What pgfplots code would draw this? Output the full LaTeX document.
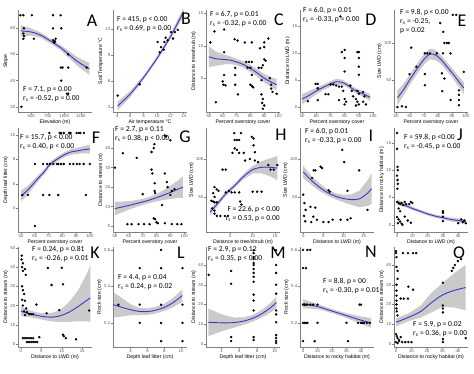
\documentclass[border=0pt]{standalone}
\usepackage{fontspec}
\setmainfont{Carlito}
\newfontfamily\axfont{Liberation Sans}
\usepackage{pgfplots}
\pgfplotsset{compat=1.18}

\definecolor{fitc}{RGB}{55,55,205}
\definecolor{bandc}{RGB}{150,150,150}

\pgfplotsset{
 panel/.style={
   scale only axis, width=74bp, anchor=north west,
   axis x line*=bottom, axis y line*=left,
   axis line style={black!50, line width=0.5bp},
   tick style={black!50, line width=0.4bp},
   tick align=outside, major tick length=1.6bp,
   ticklabel style={font=\axfont\fontsize{4.3}{4.3}\selectfont, text=black!65, inner sep=1bp},
   label style={font=\axfont\fontsize{5.2}{5.2}\selectfont, inner sep=1bp},
   /pgf/number format/assume math mode=true,
   /pgf/number format/1000 sep={},
 },
 pts/.style={only marks, mark=*, mark size=1bp, mark options={draw=black, fill=black}},
}

\newcommand{\fit}[2]{%
  \addplot[fill=bandc, fill opacity=0.5, draw=none] coordinates {#1};
  \addplot[fitc, line width=0.9bp, smooth] coordinates {#2};
}

\newcommand{\ann}[4]{\node[anchor=north west, align=left, inner sep=0pt, font=\fontsize{7.6}{9}\selectfont] at (#1bp,#2bp) {#3\\#4};}
\newcommand{\letter}[3]{\node[inner sep=0pt, font=\fontsize{18}{18}\selectfont] at (#1bp,#2bp) {#3};}
\newcommand{\rs}{r\textsubscript{s}}

\begin{document}
\begin{tikzpicture}
\path (0,0) rectangle (474bp,374bp);

% ---------- Row 1 ----------
\begin{axis}[panel, at={(18bp,364bp)}, height=102bp, xmin=300, xmax=1420, ymin=28, ymax=67,
  xtick={500,750,1000,1250}, ytick={30,40,50,60}, xlabel={Elevation (m)}, ylabel={Slope}]
\addplot[pts] coordinates {(335,65)(380,65)(510,65)(830,65)(945,65)(390,60)(830,60)(955,60)(380,58)(392,57)(380,56)(540,56)(830,55.5)(845,55)(860,55)(870,56)(850,54.5)(1060,50)(950,45)(975,45)(1060,45)(1340,45)(955,40)(1040,35)(1060,35)(350,30)};
\fit{(340,61.2)(500,60.0)(650,58.3)(800,55.9)(950,53.5)(1070,51.3)(1200,49.0)(1380,46.8)(1380,42.2)(1200,45.6)(1070,48.7)(950,51.5)(800,54.1)(650,56.3)(500,57.2)(340,56.8)}
{(340,59.0)(500,58.6)(650,57.3)(800,55.0)(950,52.5)(1070,50.0)(1200,47.3)(1380,44.5)}
\end{axis}

\begin{axis}[panel, at={(113bp,364bp)}, height=102bp, xmin=3.4, xmax=14.5, ymin=2.4, ymax=14.2,
  xtick={4,6,8,10,12,14}, ytick={3,6,9,12}, xlabel={Air temperature \textdegree C}, ylabel={Soil Temperature \textdegree C}]
\addplot[pts] coordinates {(4.1,4.3)(7.4,5.6)(10.1,10.5)(10.6,9.9)(11.1,10.5)(10.4,9.3)(11.3,11.0)(11.6,10.7)(12.1,11.65)(12.7,11.65)(13.1,11.9)(11.0,9.6)(12.4,10.9)};
\fit{(4.1,3.6)(6,4.85)(8,6.65)(10,8.85)(12,11.4)(14,14.5)(14,13.5)(12,10.8)(10,8.35)(8,6.15)(6,4.15)(4.1,2.6)}
{(4.1,3.1)(6,4.5)(8,6.4)(10,8.6)(12,11.1)(14,14.0)}
\end{axis}

\begin{axis}[panel, at={(206bp,364bp)}, height=102bp, xmin=47.9, xmax=101.4, ymin=-0.2, ymax=15.5,
  xtick={50,60,70,80,90,100}, ytick={5,10,15}, xlabel={Percent overstory cover}, ylabel={Distance to treeshrub (m)}]
\addplot[pts] coordinates {(54,12.2)(51,10.5)(61,12.5)(61,9.0)(68.6,11.0)(70.7,10.8)(76,10.5)(81,10.5)(90,10.5)(93,11.1)(90,9.8)(87,9.6)(61,5.5)(60,4.5)(60.5,4.0)(69,6.6)(69,5.5)(69,4.0)(71,2.5)(77,7.5)(79,7.5)(81,7.5)(78,6.6)(80,6.6)(80,4.0)(81,3.8)(82,3.6)(81,5.5)(86,6.6)(88,6.6)(89,7.0)(90,7.9)(91,7.7)(88,4.7)(88,2.5)(89,1.8)(88.5,1.2)(90,0.8)(89,0.3)(94,5.0)(95,4.0)(95,3.4)(96,2.9)(99,2.6)(55,1.3)(62,3.9)};
\fit{(50,9.9)(55,9.1)(60,8.7)(65,8.4)(70,8.0)(75,7.6)(80,7.05)(85,6.4)(90,5.65)(95,5.15)(99,4.9)(99,3.1)(95,3.65)(90,4.35)(85,5.2)(80,5.95)(75,6.6)(70,7.0)(65,7.2)(60,7.1)(55,6.9)(50,6.7)}
{(50,8.3)(55,8.0)(60,7.9)(65,7.8)(70,7.5)(75,7.1)(80,6.5)(85,5.8)(90,5.0)(95,4.4)(99,4.0)}
\end{axis}

\begin{axis}[panel, at={(300bp,364bp)}, height=102bp, xmin=48.5, xmax=100.7, ymin=-0.9, ymax=18,
  xtick={50,60,70,80,90,100}, ytick={0,5,10,15}, xlabel={Percent overstory cover}, ylabel={Distance to LWD (m)}]
\addplot[pts] coordinates {(77,16.8)(78,10.2)(80,10.6)(80,9.1)(80,6.6)(89,10.2)(90,10.2)(90,9.1)(90,7.5)(90,6.0)(76,3.8)(78,3.8)(79,3.0)(80,1.5)(81,1.0)(80,0.5)(66.5,2.4)(68.5,2.4)(59.5,4.3)(61,4.3)(61,3.5)(54,1.1)(61,1.3)(74,4.0)(84,4.0)(85,3.0)(86,2.0)(88,1.5)(89,3.0)(90,2.5)(89,1.0)(90,0.5)(88,0.3)(93,2.8)(94,2.0)(93,1.0)(95,0.5)(76,1.3)(70,4.2)(72,4.2)};
\fit{(50,2.4)(55,3.0)(60,3.6)(65,4.2)(70,4.8)(74,5.25)(78,5.1)(82,4.55)(86,3.75)(90,3.3)(95,2.75)(98,2.45)(98,1.15)(95,1.65)(90,2.3)(86,2.85)(82,3.65)(78,4.1)(74,4.15)(70,3.8)(65,3.2)(60,2.4)(55,1.4)(50,0.6)}
{(50,1.5)(55,2.2)(60,3.0)(65,3.7)(70,4.3)(74,4.7)(78,4.6)(82,4.1)(86,3.3)(90,2.8)(95,2.2)(98,1.8)}
\end{axis}

\begin{axis}[panel, at={(394bp,364bp)}, height=102bp, xmin=48.5, xmax=101.5, ymin=6.8, ymax=144.6,
  xtick={50,60,70,80,90,100}, ytick={50,100}, xlabel={Percent overstory cover}, ylabel={Size LWD (cm)}]
\addplot[pts] coordinates {(60.8,93.7)(59.6,58)(64.5,68)(70.6,86)(72.3,86)(74.3,86)(79.2,86)(83.6,86)(89,86)(84.6,100)(86.3,100)(87.7,100)(90.6,138)(93.1,138)(81.6,127)(83.8,115)(70.6,58)(70.6,43)(82.8,59)(84.6,52)(89,23)(95,36)(95,30)(95,23)(95,16)(98.5,61)(51,13.5)(54.2,14.5)(57,13.5)(83,35)};
\fit{(51,36)(55,44)(60,58)(65,72)(70,85)(74,92)(78,91)(82,84)(86,75)(90,66)(94,57)(98.5,47)(98.5,31)(94,43)(90,54)(86,63)(82,72)(78,77)(74,78)(70,71)(65,58)(60,44)(55,28)(51,16)}
{(51,26)(55,36)(60,51)(65,65)(70,78)(74,85)(78,84)(82,78)(86,69)(90,60)(94,50)(98.5,39)}
\end{axis}

% ---------- Row 2 ----------
\begin{axis}[panel, at={(18bp,246bp)}, height=104bp, xmin=47.8, xmax=101.5, ymin=2.05, ymax=10.57,
  xtick={50,60,70,80,90,100}, ytick={4,6,8,10}, xlabel={Percent overstory cover}, ylabel={Depth leaf litter (cm)}]
\addplot[pts] coordinates {(70.6,10.16)(78,10.16)(79,10.16)(81,10.16)(85,10.16)(86,10.16)(90.4,10.16)(92,10.16)(93,10.16)(95.6,10.16)(60,7.62)(66,7.62)(69,7.62)(71,7.62)(73.5,7.62)(76,7.62)(77,7.62)(79,7.62)(81,7.62)(85.5,7.62)(88,7.62)(90.5,7.62)(92.5,7.62)(95.5,7.62)(100,7.62)(51,5.08)(55,5.08)(66,5.08)(70.6,5.08)(77,5.08)(97,5.08)(60,2.54)};
\fit{(50,5.45)(55,5.85)(62,6.65)(67,7.2)(71,7.8)(76,8.2)(81,8.55)(86,8.82)(91,8.95)(96,9.1)(100,9.2)(100,8.5)(96,8.5)(91,8.45)(86,8.38)(81,8.15)(76,7.8)(71,7.4)(67,6.8)(62,6.15)(55,5.15)(50,4.55)}
{(50,5.0)(55,5.5)(62,6.4)(67,7.0)(71,7.6)(76,8.0)(81,8.35)(86,8.6)(91,8.7)(96,8.8)(100,8.85)}
\end{axis}

\begin{axis}[panel, at={(113bp,246bp)}, height=104bp, xmin=48.6, xmax=102, ymin=-3, ymax=50.3,
  xtick={50,60,70,80,90,100}, ytick={0,10,20,30,40}, xlabel={Percent overstory cover}, ylabel={Distance to stream (m)}]
\addplot[pts] coordinates {(50,30)(55.7,37.4)(65.7,35)(70,16.4)(76.4,38)(78,40)(78.5,42)(76.4,29)(77,27)(78.6,22)(78.6,18)(79,17)(78,4)(79,3.5)(59,1)(62,1)(67,1)(71,1)(75,1)(86,46.5)(87,46)(90,44)(86,27)(87.5,22.6)(88,20)(84,10.8)(80,2)(81,1.5)(86,1.5)(91,1)(95,1)(98,1)(90,16)(91,18)(93,19)};
\fit{(50,12.5)(55,12.6)(60,12.8)(65,13.3)(70,14.0)(75,15.0)(80,16.5)(85,18.4)(90,20.7)(95,23.2)(99,25.5)(99,14.5)(95,14.4)(90,13.9)(85,13.4)(80,12.7)(75,11.8)(70,10.8)(65,9.7)(60,8.4)(55,7.0)(50,5.5)}
{(50,9.0)(55,9.8)(60,10.6)(65,11.5)(70,12.4)(75,13.4)(80,14.6)(85,15.9)(90,17.3)(95,18.8)(99,20.0)}
\end{axis}

\begin{axis}[panel, at={(206bp,246bp)}, height=104bp, xmin=-0.4, xmax=16.1, ymin=3.9, ymax=140.8,
  xtick={5,10,15}, ytick={50,100}, xlabel={Distance to tree/shrub (m)}, ylabel={Size LWD (cm)}]
\addplot[pts] coordinates {(5.9,134)(7.4,134)(6,125)(6.5,125)(7,125)(6,114)(6.5,112)(5.5,108)(7,108)(8,108)(3.3,86)(4,86)(9.8,129)(10.2,127)(10.2,118)(10.5,109)(8.3,98)(9.4,100)(10.5,98)(11.2,96)(14,86)(14.7,86)(13.5,92)(15.5,92)(1.5,63)(2,60)(2.4,58)(1.2,55)(1.5,50)(0.8,45)(1.2,44)(1.5,43)(2,43)(4,56)(4.7,58)(5.3,56)(6,56)(7,56)(10,57)(11,57)(12,57)(1.5,28)(2,25)(2.8,25)(3.8,25)(4.5,25)(7.2,44)(7.5,40)(1,35)(1.5,32)};
\fit{(0.5,34)(2,43.5)(4,57)(6,68)(8,80.5)(10,91)(12,97)(14,101)(15.5,104)(15.5,72)(14,77)(12,81)(10,81)(8,73.5)(6,62)(4,51)(2,36.5)(0.5,26)}
{(0.5,30)(2,40)(4,54)(6,65)(8,77)(10,86)(12,89)(14,89)(15.5,88)}
\end{axis}

\begin{axis}[panel, at={(300bp,246bp)}, height=104bp, xmin=-0.8, xmax=17.6, ymin=3.9, ymax=140.8,
  xtick={0,5,10,15}, ytick={50,100}, xlabel={Distance to LWD (m)}, ylabel={Size LWD (cm)}]
\addplot[pts] coordinates {(9.7,112)(4.3,90)(4.7,88)(2.6,85)(3,85)(10.2,96)(13.9,85)(2.2,75)(6.3,59)(6.6,57)(1.8,37)(3,36)(2.5,24)(3.4,20)(2,17)(5,17)(6.3,17)(7.3,20)(9.3,20)(11,20)(11.8,22)(16,33)(0,53)(0.3,42)(0.6,33)(0.2,25)(0.5,18)(11,58)};
\fit{(0,91)(2,78)(4,68)(6,60)(8,55)(10,53)(12,53.5)(14,58.5)(16,72)(17,81)(17,41)(16,38)(14,36.5)(12,39.5)(10,43)(8,47)(6,52)(4,58)(2,66)(0,75)}
{(0,83)(2,72)(4,63)(6,56)(8,51)(10,48)(12,46.5)(14,47.5)(16,55)(17,61)}
\end{axis}

\begin{axis}[panel, at={(394bp,246bp)}, height=104bp, xmin=-2, xmax=46.4, ymin=-1.3, ymax=17.7,
  xtick={0,10,20,30,40}, ytick={0,5,10,15}, xlabel={Distance to LWD (m)}, ylabel={Distance to rocky habitat (m)}]
\addplot[pts] coordinates {(0,16.8)(0,13.9)(0.3,10.6)(0.5,10.0)(0,9.0)(0.3,8.2)(0.5,7.5)(0.2,6.6)(0,4.2)(1,4.0)(2,3.8)(3,4.0)(4,3.6)(5,4.2)(6,3.8)(8,3.8)(9,4.2)(10,4.0)(0,1.4)(1,1.0)(2,0.6)(3,0.2)(3.5,0)(0.5,0.3)(5,1.5)(7,0.8)(9,0.4)(1,3)(2,2.5)(30,2.5)(30,2.2)(30,1.5)(30,0.7)(40,0.3)(42,1.0)(43,0.5)(45,0.3)(44,0.8)};
\fit{(0,4.7)(5,3.95)(10,3.3)(15,2.8)(20,2.3)(25,1.9)(30,1.6)(35,1.35)(40,1.2)(45,1.05)(45,0.15)(40,0.4)(35,0.65)(30,1.0)(25,1.3)(20,1.7)(15,2.2)(10,2.7)(5,3.25)(0,3.7)}
{(0,4.2)(5,3.6)(10,3.0)(15,2.5)(20,2.0)(25,1.6)(30,1.3)(35,1.0)(40,0.8)(45,0.6)}
\end{axis}

% ---------- Row 3 ----------
\begin{axis}[panel, at={(18bp,127bp)}, height=100bp, xmin=-0.7, xmax=17.4, ymin=-1.6, ymax=50.5,
  xtick={0,5,10,15}, ytick={0,10,20,30,40,50}, xlabel={Distance to LWD (m)}, ylabel={Distance to stream (m)}]
\addplot[pts] coordinates {(0.2,46)(0.2,44)(0.5,42)(0.3,40)(1,39)(0.5,38)(1.2,36)(0.3,30)(0.5,28)(0.8,26)(0.3,23)(1,22.5)(0.5,20)(1.3,18.5)(0.8,17)(1.5,16.5)(2,15.5)(1,15)(2.5,15.5)(3,15.5)(0.5,3)(1,3)(1.5,3)(2,3)(2.5,3)(3,3)(1.5,1)(2,1)(2.5,1)(3,1)(3.5,1)(4,1)(4.5,3.5)(3.8,20.5)(6.6,39.6)(7.5,30.7)(10,39.6)(10.3,31)(9.4,17.6)(10.5,4)(11,3)(10.3,4.8)(13.5,2.4)(16.7,17.4)(6.3,16)};
\fit{(0,19.5)(2,17.6)(4,16.4)(6,15.9)(8,16.4)(10,18.4)(12,22.3)(14,28.0)(16,36.0)(17,41.0)(17,11.5)(16,11.8)(14,11.8)(12,11.5)(10,11.4)(8,11.6)(6,12.3)(4,13.2)(2,14.0)(0,14.5)}
{(0,17)(2,15.8)(4,14.8)(6,14.1)(8,14.0)(10,14.9)(12,16.8)(14,19.5)(16,22.5)(17,24)}
\end{axis}

\begin{axis}[panel, at={(113bp,127bp)}, height=100bp, xmin=1.9, xmax=10.7, ymin=0.068, ymax=0.616,
  xtick={4,6,8,10}, ytick={0.2,0.4,0.6}, xlabel={Depth leaf litter (cm)}, ylabel={Rock size (cm)}]
\addplot[pts] coordinates {(2.54,0.3)(5.08,0.5)(5.08,0.3)(5.08,0.2)(7.62,0.6)(7.62,0.5)(7.62,0.3)(7.62,0.2)(7.62,0.1)(10.16,0.5)(10.16,0.3)(10.16,0.2)(10.16,0.1)};
\fit{(1.9,0.37)(3,0.335)(4,0.302)(5,0.283)(6,0.28)(7,0.288)(8,0.305)(9,0.335)(10.16,0.385)(10.16,0.315)(9,0.285)(8,0.265)(7,0.252)(6,0.244)(5,0.243)(4,0.242)(3,0.235)(1.9,0.23)}
{(1.9,0.30)(3,0.285)(4,0.272)(5,0.263)(6,0.262)(7,0.27)(8,0.285)(9,0.31)(10.16,0.35)}
\end{axis}

\begin{axis}[panel, at={(206bp,127bp)}, height=100bp, xmin=2.24, xmax=10.6, ymin=-1.5, ymax=49.1,
  xtick={4,6,8,10}, ytick={0,10,20,30,40}, xlabel={Depth leaf litter (cm)}, ylabel={Distance to stream (m)}]
\addplot[pts] coordinates {(2.54,35)(5.08,37)(5.08,30.5)(5.08,3.5)(5.08,1.5)(7.62,47.5)(7.62,46)(7.62,44)(7.62,43)(7.62,41)(7.62,40)(7.62,38)(7.62,36)(7.62,34)(7.62,31.5)(7.62,25)(7.62,22)(7.62,17)(7.62,3.5)(7.62,2)(10.16,47.5)(10.16,40)(10.16,36)(10.16,30)(10.16,25.5)(10.16,17)(10.16,15)(10.16,11)(10.16,4.5)(10.16,3)(10.16,1.5)(10.16,0.5)};
\fit{(2.5,18)(3.5,16)(4.5,14.3)(5.5,13.4)(6.5,13.5)(7.5,14.7)(8.5,17.1)(9.5,20.7)(10.2,24)(10.2,18)(9.5,15.9)(8.5,13.3)(7.5,11.3)(6.5,9.7)(5.5,8.4)(4.5,7.1)(3.5,5.6)(2.5,4)}
{(2.5,11)(3.5,10.8)(4.5,10.7)(5.5,10.9)(6.5,11.6)(7.5,13.0)(8.5,15.2)(9.5,18.3)(10.2,21)}
\end{axis}

\begin{axis}[panel, at={(300bp,127bp)}, height=100bp, xmin=-2.1, xmax=49, ymin=0.068, ymax=0.616,
  xtick={0,10,20,30,40}, ytick={0.2,0.4,0.6}, xlabel={Distance to rocky habitat (m)}, ylabel={Rock size (cm)}]
\addplot[pts] coordinates {(0,0.6)(3,0.6)(5,0.6)(0,0.5)(2,0.5)(0,0.3)(1,0.3)(2,0.3)(3,0.3)(5,0.3)(7,0.3)(10,0.3)(0,0.2)(1,0.2)(2,0.2)(3,0.2)(10,0.2)(0,0.1)(8,0.1)(30,0.2)(31,0.1)(39,0.3)(40,0.3)(38,0.2)(40,0.2)(41,0.2)(42,0.2)(44,0.2)(46,0.2)};
\fit{(0,0.33)(10,0.304)(20,0.276)(30,0.253)(40,0.235)(47,0.227)(47,0.173)(40,0.195)(30,0.227)(20,0.254)(10,0.276)(0,0.28)}
{(0,0.305)(10,0.29)(20,0.265)(30,0.24)(40,0.215)(47,0.2)}
\end{axis}

\begin{axis}[panel, at={(394bp,127bp)}, height=100bp, xmin=-1.3, xmax=46.5, ymin=-1.5, ymax=49.1,
  xtick={0,10,20,30,40}, ytick={0,10,20,30,40}, xlabel={Distance to rocky habitat (m)}, ylabel={Distance to stream (m)}]
\addplot[pts] coordinates {(0,47)(0,46)(4.5,46)(7.7,46)(11,46)(13,46)(0.3,44)(0.3,39)(1,37)(1,33)(0.3,30)(0.3,27)(0.3,24.5)(0.3,22)(0.3,20)(0.3,18)(0.5,16.5)(1,14.5)(3,23)(5,23)(7.7,23)(8,29)(11,27.5)(0,5)(0.5,4)(1,3)(2,2)(3,3.5)(4,1)(6,1)(8,1)(10,1)(0,1)(1,0.5)(2,1.5)(30.3,31)(30.3,19.5)(30.3,18)(30.3,16)(30.3,2.5)(30.3,1)(36,37)(37,38.5)(38,40)(40,42)(42,43)(45,3)};
\fit{(0,13)(8,15.5)(16,19.5)(23,26)(30,30.8)(37,35.5)(45,40.1)(45,17.1)(37,18.5)(30,18.8)(23,16)(16,13.5)(8,11.5)(0,9)}
{(0,11)(8,13.5)(16,16.5)(23,21)(30,24.8)(37,27)(45,28.6)}
\end{axis}

% ---------- annotations ----------
\ann{23}{288}{F = 7.1, p = 0.00}{\rs{} = -0.52, p = 0.00}
\ann{117}{358}{F = 415, p < 0.00}{\rs{} = 0.69, p = 0.00}
\ann{210}{363}{F = 6.7, p = 0.01}{\rs{} = -0.32, p = 0.00}
\ann{303}{367}{F = 6.0, p = 0.01}{\rs{} = -0.33, p = 0.00}
\node[anchor=north west, align=left, inner sep=0pt, font=\fontsize{7.6}{9}\selectfont] at (400bp,365bp) {F = 9.8, p < 0.00\\\rs{} = -0.25,\\p = 0.02};
\ann{20}{240}{F = 15.7, p < 0.00}{\rs{} = 0.40, p < 0.00}
\ann{115}{248}{F = 2.7, p = 0.11}{\rs{} = 0.38, p < 0.00}
\node[anchor=north east, align=right, inner sep=0pt, font=\fontsize{7.6}{9}\selectfont] at (280bp,168bp) {F = 22.6, p < 0.00\\\rs{} = 0.53, p = 0.00};
\ann{305}{246}{F = 6.0, p 0.01}{\rs{} = -0.33, p = 0.00}
\ann{404}{240}{F = 59.8, p <0.00}{\rs{} = -0.45, p = 0.00}
\ann{32}{128}{F = 0.24, p = 0.81}{\rs{} = -0.26, p = 0.01}
\ann{118}{100}{F = 4.4, p = 0.04}{\rs{} = 0.24, p = 0.02}
\ann{208}{128}{F = 2.9, p = 0.12}{\rs{} = 0.35, p < 0.00}
\ann{323}{96}{F = 8.8, p = 00}{\rs{} = -0.30, p = 0.01}
\ann{413}{53}{F = 5.9, p = 0.02}{\rs{} = 0.36, p = 0.00}

% ---------- panel letters ----------
\letter{92}{353}{A}
\letter{186}{355}{B}
\letter{279}{354}{C}
\letter{371}{354}{D}
\letter{462}{353}{E}
\letter{96}{236}{F}
\letter{185}{237}{G}
\letter{281}{239}{H}
\letter{371}{238}{I}
\letter{460}{239}{J}
\letter{95}{121}{K}
\letter{181}{121}{L}
\letter{278}{121}{M}
\letter{371}{122}{N}
\letter{459}{121}{O}
\end{tikzpicture}
\end{document}
